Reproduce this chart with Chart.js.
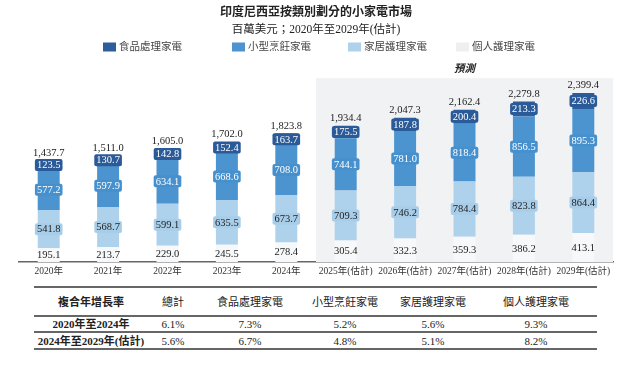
<!DOCTYPE html>
<html>
<head>
<meta charset="utf-8">
<script src="https://cdn.jsdelivr.net/npm/chart.js@4.4.1/dist/chart.umd.min.js"></script>
<style>
  html, body { margin: 0; padding: 0; background: #ffffff; }
  #wrap { position: relative; width: 640px; height: 373px; overflow: hidden; font-family: "Liberation Serif", "Noto Sans CJK TC", serif; color: #222; }
  #chartBox { position: absolute; left: 0; top: 0; width: 640px; height: 284px; }
  .cell { position: absolute; width: 140px; text-align: center; font-size: 11px; line-height: 14px; white-space: nowrap; }
  .hline { position: absolute; background: #666; }
</style>
</head>
<body>
<div id="wrap">
  <div id="chartBox"><canvas id="c"></canvas></div>
  <div id="table"></div>
</div>
<script>
// ---------- data ----------
const years = ["2020年", "2021年", "2022年", "2023年", "2024年",
               "2025年(估計)", "2026年(估計)", "2027年(估計)", "2028年(估計)", "2029年(估計)"];
const personalCare   = [195.1, 213.7, 229.0, 245.5, 278.4, 305.4, 332.3, 359.3, 386.2, 413.1];
const homeCare       = [541.8, 568.7, 599.1, 635.5, 673.7, 709.3, 746.2, 784.4, 823.8, 864.4];
const smallCooking   = [577.2, 597.9, 634.1, 668.6, 708.0, 744.1, 781.0, 818.4, 856.5, 895.3];
const foodProcessing = [123.5, 130.7, 142.8, 152.4, 163.7, 175.5, 187.8, 200.4, 213.3, 226.6];
const totals         = [1437.7, 1511.0, 1605.0, 1702.0, 1823.8, 1934.4, 2047.3, 2162.4, 2279.8, 2399.4];
const seriesNames = ["個人護理家電", "家居護理家電", "小型烹飪家電", "食品處理家電"];
const forecastStart = 5; // index of first forecast year
const forecastLabel = "預測";

// CAGR table
const cagrHeader = ["複合年增長率", "總計", "食品處理家電", "小型烹飪家電", "家居護理家電", "個人護理家電"];
const cagrPeriods = ["2020年至2024年", "2024年至2029年(估計)"];
const cagr2020_2024 = ["6.1%", "7.3%", "5.2%", "5.6%", "9.3%"];
const cagr2024_2029 = ["5.6%", "6.7%", "4.8%", "5.1%", "8.2%"];

// ---------- styles ----------
const colors   = ["#f7f8f9", "#aed2ec", "#4b94cf", "#2e5d9b"];
const boxCols  = [null, "#a8cde9", "#4690cd", "#2b5a98"];
const txtCols  = ["#222222", "#222222", "#ffffff", "#ffffff"];
const serif = '"Liberation Serif", "Noto Sans CJK TC", serif';

const fmt = v => v.toLocaleString("en-US", { minimumFractionDigits: 1, maximumFractionDigits: 1 });

const forecastBg = {
  id: "forecastBg",
  beforeDatasetsDraw(chart) {
    const { ctx, chartArea } = chart;
    const x = chart.scales.x;
    const left = x.getPixelForValue(forecastStart - 0.5);
    ctx.save();
    ctx.fillStyle = "#f1f2f4";
    ctx.fillRect(left, chartArea.top, chartArea.right - left, chartArea.bottom - chartArea.top);
    ctx.fillStyle = "#222";
    ctx.font = "italic bold 10.5px " + serif;
    ctx.textAlign = "center";
    ctx.textBaseline = "middle";
    ctx.fillText(forecastLabel, (left + chartArea.right) / 2, chartArea.top - 9);
    ctx.restore();
  }
};

const segLabels = {
  id: "segLabels",
  afterDatasetsDraw(chart) {
    const ctx = chart.ctx;
    ctx.save();
    ctx.font = "10.5px " + serif;
    ctx.textAlign = "center";
    ctx.textBaseline = "middle";
    chart.data.datasets.forEach((ds, di) => {
      const meta = chart.getDatasetMeta(di);
      meta.data.forEach((bar, i) => {
        const txt = fmt(ds.data[i]);
        const cy = (bar.y + bar.base) / 2;
        if (boxCols[di]) {
          const w = ctx.measureText(txt).width + 4;
          const h = 12;
          ctx.fillStyle = boxCols[di];
          ctx.beginPath();
          ctx.roundRect(bar.x - w / 2, cy - h / 2, w, h, 2);
          ctx.fill();
        }
        ctx.fillStyle = txtCols[di];
        ctx.fillText(txt, bar.x, cy + 0.5);
      });
    });
    const top = chart.getDatasetMeta(chart.data.datasets.length - 1);
    ctx.fillStyle = "#222";
    top.data.forEach((bar, i) => {
      ctx.fillText(fmt(totals[i]), bar.x, bar.y - 7.5);
    });
    ctx.restore();
  }
};

const customLegend = {
  id: "customLegend",
  afterDraw(chart, args, opts) {
    const ctx = chart.ctx;
    ctx.save();
    ctx.font = "10.5px " + serif;
    ctx.textBaseline = "middle";
    ctx.textAlign = "left";
    const order = [3, 2, 1, 0];
    order.forEach((di, k) => {
      const x = opts.xs[k];
      const y = opts.y;
      ctx.fillStyle = di === 0 ? "#eeeff1" : colors[di];
      ctx.fillRect(x, y - 4.5, 13, 9);
      ctx.fillStyle = "#444";
      ctx.fillText(chart.data.datasets[di].label, x + 16, y + 0.5);
    });
    ctx.restore();
  }
};

const datasets = [personalCare, homeCare, smallCooking, foodProcessing].map((d, i) => ({
  label: seriesNames[i],
  data: d,
  backgroundColor: colors[i],
  borderWidth: 0,
  barPercentage: 0.37,
  categoryPercentage: 1.0
}));

new Chart(document.getElementById("c"), {
  type: "bar",
  data: { labels: years, datasets },
  options: {
    responsive: true,
    maintainAspectRatio: false,
    animation: false,
    layout: { padding: { left: 19, right: 27, top: 0, bottom: 0 } },
    scales: {
      x: {
        stacked: true,
        grid: { display: false, drawTicks: false },
        border: { display: true, color: "#666", width: 1.5 },
        ticks: { color: "#333", font: { family: serif, size: 9.5 }, padding: 4, maxRotation: 0, autoSkip: false },
        afterFit: s => { s.height = 22; }
      },
      y: { stacked: true, display: false, min: 0, max: 2610 }
    },
    plugins: {
      legend: { display: false },
      tooltip: { enabled: false },
      title: {
        display: true,
        text: "印度尼西亞按類別劃分的小家電市場",
        color: "#222",
        font: { family: serif, size: 12, weight: "bold" },
        padding: { top: 6, bottom: 2 }
      },
      subtitle: {
        display: true,
        text: "百萬美元；2020年至2029年(估計)",
        color: "#222",
        font: { family: serif, size: 11.5 },
        padding: { top: 1, bottom: 41 }
      },
      customLegend: { xs: [103, 232, 348, 456], y: 47 }
    }
  },
  plugins: [forecastBg, segLabels, customLegend]
});

// ---------- CAGR table ----------
const table = document.getElementById("table");
const colX = [91, 173, 250, 345, 433, 536];
function addCell(text, cx, cy, bold) {
  const d = document.createElement("div");
  d.className = "cell";
  d.textContent = text;
  d.style.left = (cx - 70) + "px";
  d.style.top = (cy - 7) + "px";
  if (bold) d.style.fontWeight = "bold";
  table.appendChild(d);
}
function addLine(y, h) {
  const d = document.createElement("div");
  d.className = "hline";
  d.style.left = "34px";
  d.style.width = "563px";
  d.style.top = y + "px";
  d.style.height = h + "px";
  table.appendChild(d);
}
addLine(286, 2);
addLine(315, 2);
addLine(331, 1.5);
addLine(348, 2);
cagrHeader.forEach((t, i) => addCell(t, colX[i], 302, i === 0));
[cagr2020_2024, cagr2024_2029].forEach((row, r) => {
  const cy = r === 0 ? 324 : 341;
  addCell(cagrPeriods[r], colX[0], cy, true);
  row.forEach((v, i) => addCell(v, colX[i + 1], cy, false));
});
</script>
</body>
</html>
